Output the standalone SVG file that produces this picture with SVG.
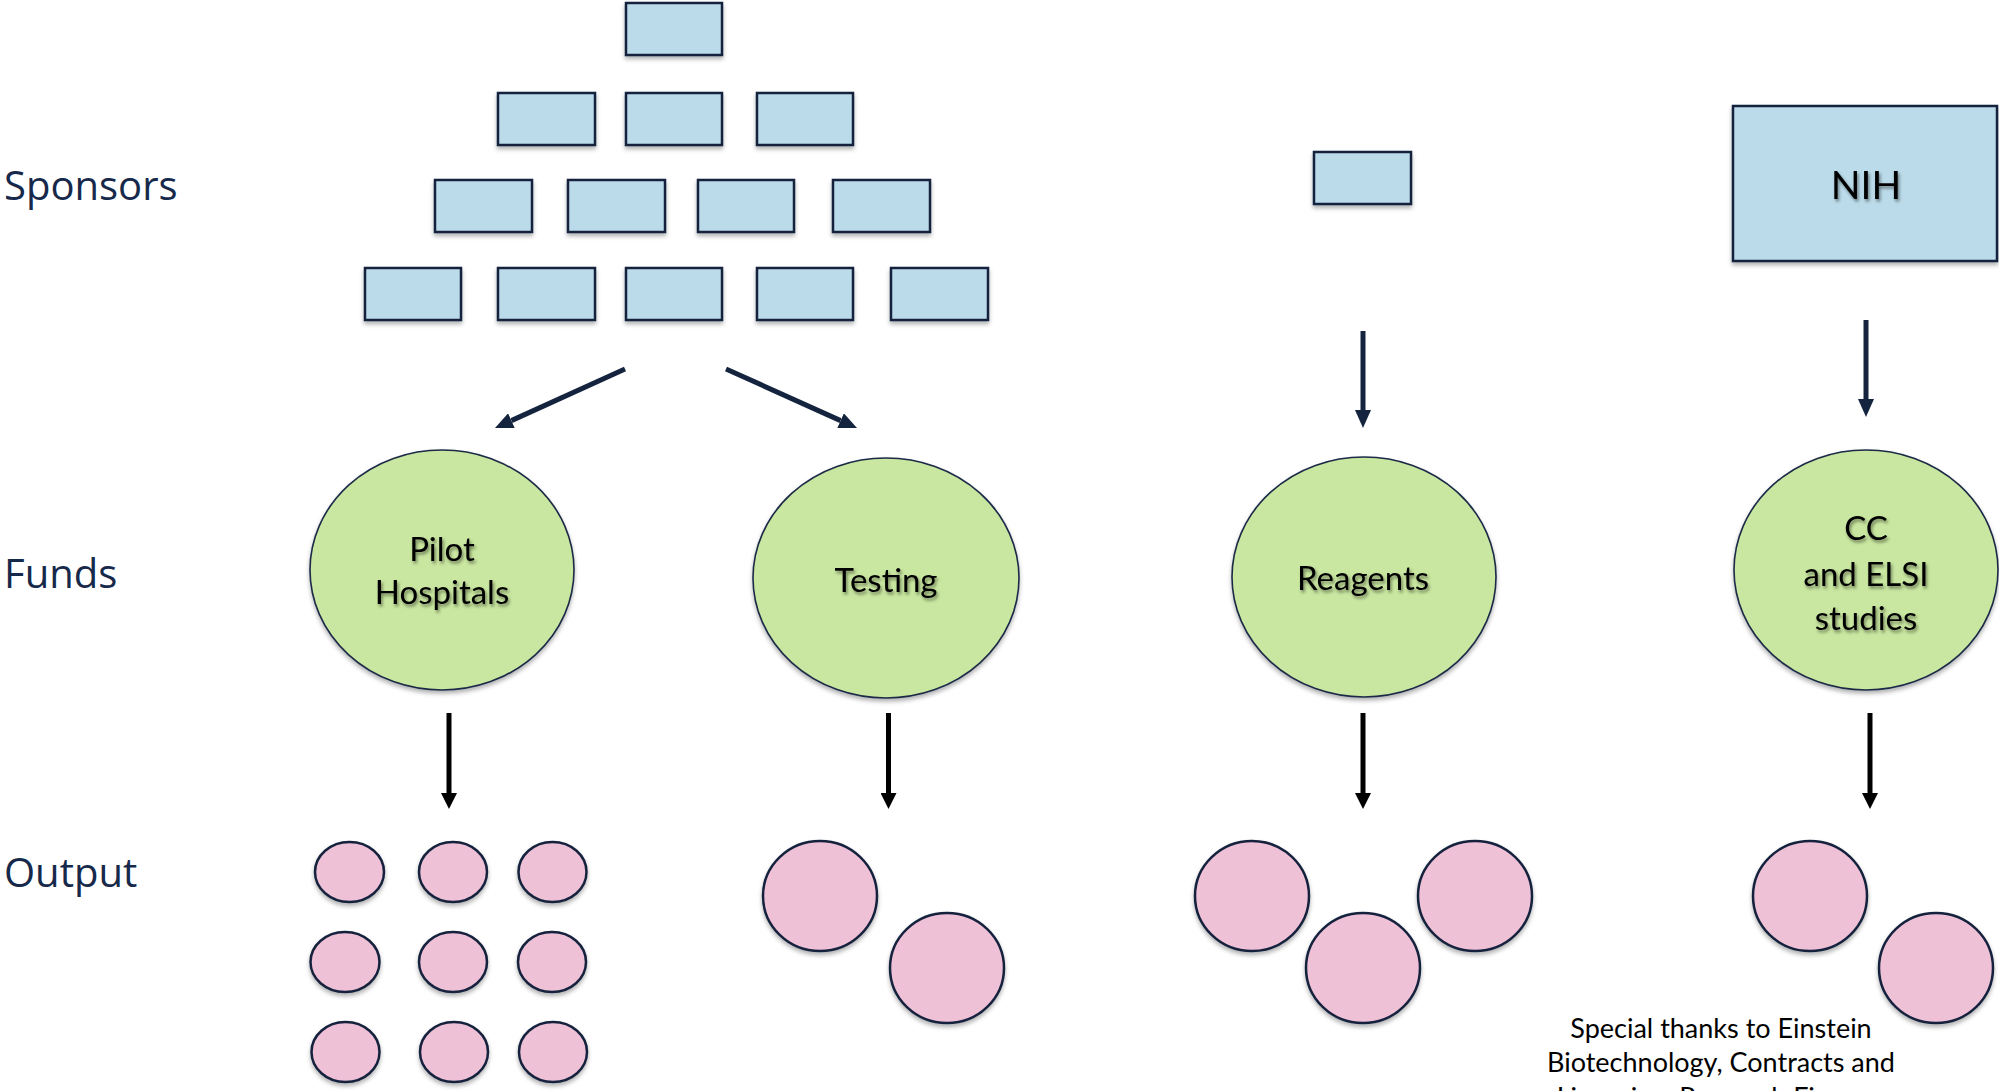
<svg xmlns="http://www.w3.org/2000/svg" width="1999" height="1091" viewBox="0 0 1999 1091">
  <style>
    .side { font-family: "Open Sans", "Liberation Sans", sans-serif; font-size: 40px; fill: #17294A; }
    .sp { fill: #BBDBEA; stroke: #14243E; stroke-width: 2.5; filter: url(#sh); }
    .fund { fill: #C9E7A0; stroke: #1B2A47; stroke-width: 1.6; filter: url(#sh); }
    .out { fill: #EEC1D6; stroke: #15233D; stroke-width: 2.5; filter: url(#sh); }
    .lbl { font-family: Lato, "Open Sans", "Liberation Sans", sans-serif; font-size: 33px; fill: #000; text-anchor: middle; filter: url(#tsh); }
    .nih { font-size: 39px; }
    .note { font-family: Lato, "Open Sans", "Liberation Sans", sans-serif; font-size: 27px; fill: #000; text-anchor: middle; }
    .nav { stroke: #14243E; stroke-width: 5; fill: none; marker-end: url(#hNavy); }
    .blk { stroke: #000; stroke-width: 5; fill: none; marker-end: url(#hBlack); }
  </style>
  <defs>
    <filter id="sh" x="-20%" y="-20%" width="140%" height="150%">
      <feDropShadow dx="0" dy="3" stdDeviation="2" flood-color="#000" flood-opacity="0.3"/>
    </filter>
    <filter id="tsh" x="-20%" y="-30%" width="140%" height="160%">
      <feDropShadow dx="1.5" dy="2.5" stdDeviation="1.8" flood-color="#000" flood-opacity="0.45"/>
    </filter>
    <marker id="hNavy" markerUnits="userSpaceOnUse" viewBox="0 0 18 16" markerWidth="18" markerHeight="16" refX="0" refY="8" orient="auto">
      <path d="M0,0 L18,8 L0,16 z" fill="#14243E"/>
    </marker>
    <marker id="hBlack" markerUnits="userSpaceOnUse" viewBox="0 0 16 16" markerWidth="16" markerHeight="16" refX="0" refY="8" orient="auto">
      <path d="M0,0 L16,8 L0,16 z" fill="#000"/>
    </marker>
  </defs>
  <rect width="1999" height="1091" fill="#FFFFFF"/>

  <g id="row-labels">
    <text class="side" x="4" y="200">Sponsors</text>
    <text class="side" x="4" y="588">Funds</text>
    <text class="side" x="4" y="887">Output</text>
  </g>

  <g id="sponsors">
    <rect id="sp1" class="sp" x="626" y="3" width="96" height="52"/>
    <rect id="sp2" class="sp" x="498" y="93" width="97" height="52"/>
    <rect id="sp3" class="sp" x="626" y="93" width="96" height="52"/>
    <rect id="sp4" class="sp" x="757" y="93" width="96" height="52"/>
    <rect id="sp5" class="sp" x="435" y="180" width="97" height="52"/>
    <rect id="sp6" class="sp" x="568" y="180" width="97" height="52"/>
    <rect id="sp7" class="sp" x="698" y="180" width="96" height="52"/>
    <rect id="sp8" class="sp" x="833" y="180" width="97" height="52"/>
    <rect id="sp9" class="sp" x="365" y="268" width="96" height="52"/>
    <rect id="sp10" class="sp" x="498" y="268" width="97" height="52"/>
    <rect id="sp11" class="sp" x="626" y="268" width="96" height="52"/>
    <rect id="sp12" class="sp" x="757" y="268" width="96" height="52"/>
    <rect id="sp13" class="sp" x="891" y="268" width="97" height="52"/>
  </g>
  <g id="sponsor-reagents">
    <rect class="sp" x="1314" y="152" width="97" height="52"/>
  </g>
  <g id="sponsor-nih">
    <rect class="sp" x="1733" y="106" width="264" height="155"/>
    <text class="lbl nih" x="1866" y="199">NIH</text>
  </g>

  <g id="fund-pilot">
    <ellipse class="fund" cx="442" cy="570" rx="132" ry="120"/>
    <text class="lbl" x="442" y="561">Pilot</text>
    <text class="lbl" x="442" y="604">Hospitals</text>
  </g>
  <g id="fund-testing">
    <ellipse class="fund" cx="886" cy="578" rx="133" ry="120"/>
    <text class="lbl" x="886" y="592">Testing</text>
  </g>
  <g id="fund-reagents">
    <ellipse class="fund" cx="1364" cy="577" rx="132" ry="120"/>
    <text class="lbl" x="1363" y="590">Reagents</text>
  </g>
  <g id="fund-cc">
    <ellipse class="fund" cx="1866" cy="570" rx="132" ry="120"/>
    <text class="lbl" x="1866" y="540">CC</text>
    <text class="lbl" x="1866" y="586">and ELSI</text>
    <text class="lbl" x="1866" y="630">studies</text>
  </g>

  <g id="output-pilot">
    <ellipse class="out" cx="349.5" cy="872" rx="34.5" ry="30"/>
    <ellipse class="out" cx="453" cy="872" rx="34" ry="30"/>
    <ellipse class="out" cx="552.5" cy="872" rx="34" ry="30"/>
    <ellipse class="out" cx="345" cy="962" rx="34.5" ry="30"/>
    <ellipse class="out" cx="453" cy="962" rx="34" ry="30"/>
    <ellipse class="out" cx="552" cy="962" rx="34" ry="30"/>
    <ellipse class="out" cx="345.5" cy="1052" rx="34" ry="30"/>
    <ellipse class="out" cx="454" cy="1052" rx="34" ry="30"/>
    <ellipse class="out" cx="553" cy="1052" rx="34" ry="30"/>
  </g>
  <g id="output-testing">
    <ellipse class="out" cx="820" cy="896" rx="57" ry="55"/>
    <ellipse class="out" cx="947" cy="968" rx="57" ry="55"/>
  </g>
  <g id="output-reagents">
    <ellipse class="out" cx="1252" cy="896" rx="57" ry="55"/>
    <ellipse class="out" cx="1363" cy="968" rx="57" ry="55"/>
    <ellipse class="out" cx="1475" cy="896" rx="57" ry="55"/>
  </g>
  <g id="output-cc">
    <ellipse class="out" cx="1810" cy="896" rx="57" ry="55"/>
    <ellipse class="out" cx="1936" cy="968" rx="57" ry="55"/>
  </g>

  <g id="connectors">
    <line class="nav" x1="625" y1="369" x2="511.4" y2="420.6"/>
    <line class="nav" x1="726" y1="369" x2="840.6" y2="420.6"/>
    <line class="nav" x1="1363" y1="331" x2="1363" y2="410"/>
    <line class="nav" x1="1866" y1="320" x2="1866" y2="399"/>
    <line class="blk" x1="449" y1="713" x2="449" y2="793"/>
    <line class="blk" x1="888.5" y1="713" x2="888.5" y2="793"/>
    <line class="blk" x1="1363" y1="713" x2="1363" y2="793"/>
    <line class="blk" x1="1870" y1="713" x2="1870" y2="793"/>
  </g>

  <g id="footnote">
    <text class="note" x="1721" y="1038">Special thanks to Einstein</text>
    <text class="note" x="1721" y="1072">Biotechnology, Contracts and</text>
    <text class="note" x="1721" y="1107">Licensing, Research Finance</text>
  </g>
</svg>
